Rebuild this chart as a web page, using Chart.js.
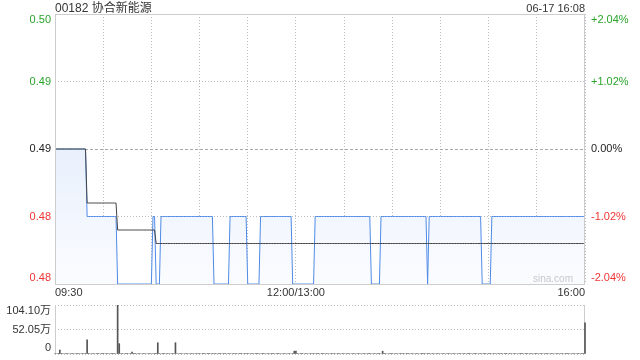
<!DOCTYPE html>
<html>
<head>
<meta charset="utf-8">
<script src="https://cdn.jsdelivr.net/npm/chart.js@4.4.1/dist/chart.umd.min.js"></script>
<style>
html,body{margin:0;padding:0;background:#fff;width:640px;height:360px;overflow:hidden;}
#wrap{position:relative;width:640px;height:360px;font-family:"Liberation Sans",Arial,"Noto Sans CJK SC",sans-serif;}
#c1{position:absolute;left:0;top:0;}
#c2{position:absolute;left:0;top:300px;}
#title{position:absolute;left:55px;top:0;font-size:12px;line-height:16px;color:#333;white-space:nowrap;}
#date{position:absolute;right:55px;top:0;font-size:11px;line-height:16px;color:#333;white-space:nowrap;}
</style>
</head>
<body>
<div id="wrap">
<canvas id="c1" width="640" height="300"></canvas>
<canvas id="c2" width="640" height="60"></canvas>
<div id="title">00182 协合新能源</div>
<div id="date">06-17 16:08</div>
</div>
<script>
// ---- data (one value per trading minute, 09:30..12:00 / 13:00..16:00) ----
const prevClose = 0.49;
const priceTicks = [0.48, 0.485, 0.49, 0.495, 0.50];
const priceTickLabels = ['0.48', '0.48', '0.49', '0.49', '0.50'];
const pctTickLabels = ['-2.04%', '-1.02%', '0.00%', '+1.02%', '+2.04%'];
const timeGridMinutes = [0, 30, 60, 90, 120, 150, 180, 210, 240, 270, 300, 330];
const timeLabelMinutes = [0, 150, 330];
const timeLabels = ['09:30', '12:00/13:00', '16:00'];
const volTicks = [0, 52.05, 104.10];
const volTickLabels = ['0', '52.05万', '104.10万'];

const prices = [
0.49,0.49,0.49,0.49,0.49,0.49,0.49,0.49,0.49,0.49,
0.49,0.49,0.49,0.49,0.49,0.49,0.49,0.49,0.49,0.49,
0.485,0.485,0.485,0.485,0.485,0.485,0.485,0.485,0.485,0.485,
0.485,0.485,0.485,0.485,0.485,0.485,0.485,0.485,0.485,0.48,
0.48,0.48,0.48,0.48,0.48,0.48,0.48,0.48,0.48,0.48,
0.48,0.48,0.48,0.48,0.48,0.48,0.48,0.48,0.48,0.48,
0.48,0.485,0.485,0.48,0.48,0.48,0.485,0.485,0.485,0.485,
0.485,0.485,0.485,0.485,0.485,0.485,0.485,0.485,0.485,0.485,
0.485,0.485,0.485,0.485,0.485,0.485,0.485,0.485,0.485,0.485,
0.485,0.485,0.485,0.485,0.485,0.485,0.485,0.485,0.485,0.48,
0.48,0.48,0.48,0.48,0.48,0.48,0.48,0.48,0.48,0.485,
0.485,0.485,0.485,0.485,0.485,0.485,0.485,0.485,0.485,0.485,
0.48,0.48,0.48,0.48,0.48,0.48,0.48,0.48,0.485,0.485,
0.485,0.485,0.485,0.485,0.485,0.485,0.485,0.485,0.485,0.485,
0.485,0.485,0.485,0.485,0.485,0.485,0.485,0.485,0.48,0.48,
0.48,0.48,0.48,0.48,0.48,0.48,0.48,0.48,0.48,0.48,
0.48,0.48,0.485,0.485,0.485,0.485,0.485,0.485,0.485,0.485,
0.485,0.485,0.485,0.485,0.485,0.485,0.485,0.485,0.485,0.485,
0.485,0.485,0.485,0.485,0.485,0.485,0.485,0.485,0.485,0.485,
0.485,0.485,0.485,0.485,0.485,0.485,0.485,0.48,0.48,0.48,
0.48,0.48,0.48,0.485,0.485,0.485,0.485,0.485,0.485,0.485,
0.485,0.485,0.485,0.485,0.485,0.485,0.485,0.485,0.485,0.485,
0.485,0.485,0.485,0.485,0.485,0.485,0.485,0.485,0.485,0.485,
0.485,0.485,0.48,0.485,0.485,0.485,0.485,0.485,0.485,0.485,
0.485,0.485,0.485,0.485,0.485,0.485,0.485,0.485,0.485,0.485,
0.485,0.485,0.485,0.485,0.485,0.485,0.485,0.485,0.485,0.485,
0.485,0.485,0.485,0.485,0.485,0.485,0.48,0.48,0.48,0.48,
0.48,0.48,0.485,0.485,0.485,0.485,0.485,0.485,0.485,0.485,
0.485,0.485,0.485,0.485,0.485,0.485,0.485,0.485,0.485,0.485,
0.485,0.485,0.485,0.485,0.485,0.485,0.485,0.485,0.485,0.485,
0.485,0.485,0.485,0.485,0.485,0.485,0.485,0.485,0.485,0.485,
0.485,0.485,0.485,0.485,0.485,0.485,0.485,0.485,0.485,0.485,
0.485,0.485,0.485,0.485,0.485,0.485,0.485,0.485,0.485,0.485,
0.485
];

const avgPrices = [
0.49,0.49,0.49,0.49,0.49,0.49,0.49,0.49,0.49,0.49,
0.49,0.49,0.49,0.49,0.49,0.49,0.49,0.49,0.49,0.49,
0.486,0.486,0.486,0.486,0.486,0.486,0.486,0.486,0.486,0.486,
0.486,0.486,0.486,0.486,0.486,0.486,0.486,0.486,0.486,0.484,
0.484,0.484,0.484,0.484,0.484,0.484,0.484,0.484,0.484,0.484,
0.484,0.484,0.484,0.484,0.484,0.484,0.484,0.484,0.484,0.484,
0.484,0.484,0.484,0.483,0.483,0.483,0.483,0.483,0.483,0.483,
0.483,0.483,0.483,0.483,0.483,0.483,0.483,0.483,0.483,0.483,
0.483,0.483,0.483,0.483,0.483,0.483,0.483,0.483,0.483,0.483,
0.483,0.483,0.483,0.483,0.483,0.483,0.483,0.483,0.483,0.483,
0.483,0.483,0.483,0.483,0.483,0.483,0.483,0.483,0.483,0.483,
0.483,0.483,0.483,0.483,0.483,0.483,0.483,0.483,0.483,0.483,
0.483,0.483,0.483,0.483,0.483,0.483,0.483,0.483,0.483,0.483,
0.483,0.483,0.483,0.483,0.483,0.483,0.483,0.483,0.483,0.483,
0.483,0.483,0.483,0.483,0.483,0.483,0.483,0.483,0.483,0.483,
0.483,0.483,0.483,0.483,0.483,0.483,0.483,0.483,0.483,0.483,
0.483,0.483,0.483,0.483,0.483,0.483,0.483,0.483,0.483,0.483,
0.483,0.483,0.483,0.483,0.483,0.483,0.483,0.483,0.483,0.483,
0.483,0.483,0.483,0.483,0.483,0.483,0.483,0.483,0.483,0.483,
0.483,0.483,0.483,0.483,0.483,0.483,0.483,0.483,0.483,0.483,
0.483,0.483,0.483,0.483,0.483,0.483,0.483,0.483,0.483,0.483,
0.483,0.483,0.483,0.483,0.483,0.483,0.483,0.483,0.483,0.483,
0.483,0.483,0.483,0.483,0.483,0.483,0.483,0.483,0.483,0.483,
0.483,0.483,0.483,0.483,0.483,0.483,0.483,0.483,0.483,0.483,
0.483,0.483,0.483,0.483,0.483,0.483,0.483,0.483,0.483,0.483,
0.483,0.483,0.483,0.483,0.483,0.483,0.483,0.483,0.483,0.483,
0.483,0.483,0.483,0.483,0.483,0.483,0.483,0.483,0.483,0.483,
0.483,0.483,0.483,0.483,0.483,0.483,0.483,0.483,0.483,0.483,
0.483,0.483,0.483,0.483,0.483,0.483,0.483,0.483,0.483,0.483,
0.483,0.483,0.483,0.483,0.483,0.483,0.483,0.483,0.483,0.483,
0.483,0.483,0.483,0.483,0.483,0.483,0.483,0.483,0.483,0.483,
0.483,0.483,0.483,0.483,0.483,0.483,0.483,0.483,0.483,0.483,
0.483,0.483,0.483,0.483,0.483,0.483,0.483,0.483,0.483,0.483,
0.483
];

// volume in 万 shares
const volumes = [
1,0,1,8.5,1,1,0,1,1,0, 1,1,0,1,1,1,0,1,1,1, 30,1,0,1,1,0,1,1,0,1,
1,0,1,1,0,1,1,1,0,104.1, 22,1,1,0,1,1,0,1,4,1, 1,0,1,1,0,1,1,0,1,1,
0,1,1,1,24,1,0,1,1,0, 1,1,0,1,1,24,1,0,1,1, 0,1,1,0,1,1,1,0,1,1,
1,0,1,1,0,1,1,0,1,1, 1,0,1,1,0,1,1,0,1,1, 0,1,1,1,0,1,1,0,1,1,
1,0,1,1,0,1,1,1,0,1, 1,0,1,1,0,1,1,0,1,1, 1,0,1,1,0,1,1,0,1,6,
6,1,0,1,1,0,1,1,0,1, 1,1,0,1,1,0,1,1,0,1, 1,0,1,1,1,0,1,1,0,1,
1,0,1,1,0,1,1,0,1,1, 1,0,1,1,0,1,1,0,1,1, 0,1,1,0,6,1,1,0,1,1,
1,0,1,1,0,1,1,1,0,1, 1,0,1,1,0,1,1,0,1,1, 1,0,1,1,0,1,1,0,1,1,
0,1,1,0,1,1,1,0,1,1, 0,1,1,0,1,1,0,1,1,1, 0,1,1,0,1,1,0,1,1,0,
1,1,0,1,1,0,1,1,1,0, 1,1,0,1,1,0,1,1,0,1, 1,1,0,1,1,0,1,1,0,1,
1,0,1,1,0,1,1,1,0,1, 1,0,1,1,0,1,1,0,1,1, 1,0,1,1,0,1,1,0,1,1,
66
];

// ---- styles ----
const UP = '#2aa52a', DOWN = '#ef3434', FLAT = '#222';
const FONT = '11px "Liberation Sans", Arial, "Noto Sans CJK SC", sans-serif';
const GRID = '#bdbdbd', FRAME = '#cdcdcd';

const toXY = arr => arr.map((v, i) => ({x: i, y: v}));

const pricePlugin = {
  id: 'priceDeco',
  afterDraw(chart) {
    const {ctx, chartArea: a, scales: {y}} = chart;
    ctx.save();
    ctx.strokeStyle = FRAME; ctx.lineWidth = 1; ctx.setLineDash([]);
    ctx.strokeRect(a.left + 0.5, a.top + 0.5, a.right - a.left - 1, a.bottom - a.top);
    ctx.font = FONT; ctx.textBaseline = 'middle';
    priceTicks.forEach((v, i) => {
      const py = Math.min(Math.max(y.getPixelForValue(v), a.top + 6), a.bottom - 6);
      ctx.fillStyle = v > prevClose ? UP : (v < prevClose ? DOWN : FLAT);
      ctx.textAlign = 'right'; ctx.fillText(priceTickLabels[i], a.left - 4, py);
      ctx.textAlign = 'left'; ctx.fillText(pctTickLabels[i], a.right + 6, py);
    });
    const xs = chart.scales.x;
    ctx.fillStyle = '#333';
    timeLabelMinutes.forEach((m, i) => {
      ctx.textAlign = i === 0 ? 'left' : (i === timeLabelMinutes.length - 1 ? 'right' : 'center');
      ctx.fillText(timeLabels[i], xs.getPixelForValue(m), a.bottom + 9);
    });
    ctx.font = '10px "Liberation Sans", Arial, sans-serif';
    ctx.fillStyle = '#c8c8c8'; ctx.textAlign = 'right';
    ctx.fillText('sina.com', a.right - 12, a.bottom - 5);
    ctx.restore();
  }
};

const volPlugin = {
  id: 'volDeco',
  beforeDatasetsDraw(chart) {
    const {ctx, chartArea: a} = chart;
    ctx.save();
    ctx.strokeStyle = FRAME; ctx.lineWidth = 1;
    ctx.beginPath();
    ctx.moveTo(a.left + 0.5, a.top); ctx.lineTo(a.left + 0.5, a.bottom);
    ctx.moveTo(a.right - 0.5, a.top); ctx.lineTo(a.right - 0.5, a.bottom);
    ctx.stroke();
    ctx.restore();
  },
  afterDraw(chart) {
    const {ctx, chartArea: a, scales: {y}} = chart;
    ctx.save();
    ctx.font = FONT; ctx.textBaseline = 'middle'; ctx.fillStyle = '#333'; ctx.textAlign = 'right';
    volTicks.forEach((v, i) => {
      const py = Math.min(Math.max(y.getPixelForValue(v), a.top + 6), a.bottom - 6);
      ctx.fillText(volTickLabels[i], a.left - 4, py);
    });
    ctx.restore();
  }
};

new Chart(document.getElementById('c1'), {
  type: 'line',
  data: {
    datasets: [
      {
        data: toXY(avgPrices), borderColor: '#444', borderWidth: 1,
        pointRadius: 0, fill: false, tension: 0, order: 1
      },
      {
        data: toXY(prices), borderColor: '#4f8be6', borderWidth: 1,
        pointRadius: 0, tension: 0, order: 2, fill: 'start',
        backgroundColor: (c) => {
          const a = c.chart.chartArea;
          if (!a) return 'rgba(0,0,0,0)';
          const g = c.chart.ctx.createLinearGradient(0, a.top, 0, a.bottom);
          g.addColorStop(0, '#d6e4fa');
          g.addColorStop(1, '#fbfcff');
          return g;
        }
      }
    ]
  },
  options: {
    responsive: false, animation: false, events: [],
    layout: {padding: {left: 55, right: 55, top: 14, bottom: 16}},
    plugins: {legend: {display: false}, tooltip: {enabled: false}},
    scales: {
      x: {
        type: 'linear', min: 0, max: 330,
        afterBuildTicks: ax => { ax.ticks = timeGridMinutes.map(v => ({value: v})); },
        ticks: {display: false},
        grid: {color: GRID, drawTicks: false, lineWidth: 1},
        border: {display: false, dash: [1, 2]}
      },
      y: {
        type: 'linear', min: 0.48, max: 0.50,
        afterBuildTicks: ax => { ax.ticks = priceTicks.map(v => ({value: v})); },
        ticks: {display: false},
        grid: {
          drawTicks: false, lineWidth: 1,
          color: c => (c.tick && Math.abs(c.tick.value - prevClose) < 1e-9) ? '#a8a8a8' : GRID
        },
        border: {
          display: false,
          dash: c => (c.tick && Math.abs(c.tick.value - prevClose) < 1e-9) ? [3, 2] : [1, 2]
        }
      }
    }
  },
  plugins: [pricePlugin]
});

new Chart(document.getElementById('c2'), {
  type: 'bar',
  data: {
    datasets: [{
      data: toXY(volumes), backgroundColor: '#555', borderWidth: 0,
      barThickness: 1, grouped: false, clip: {left: 2, top: 0, right: 2, bottom: 0}
    }]
  },
  options: {
    responsive: false, animation: false, events: [],
    layout: {padding: {left: 55, right: 55, top: 5, bottom: 6}},
    plugins: {legend: {display: false}, tooltip: {enabled: false}},
    scales: {
      x: {type: 'linear', min: 0, max: 330, offset: false, display: false},
      y: {
        type: 'linear', min: 0, max: 104.10,
        afterBuildTicks: ax => { ax.ticks = volTicks.map(v => ({value: v})); },
        ticks: {display: false},
        grid: {color: GRID, drawTicks: false, lineWidth: 1},
        border: {display: false, dash: [1, 2]}
      }
    }
  },
  plugins: [volPlugin]
});
</script>
</body>
</html>
